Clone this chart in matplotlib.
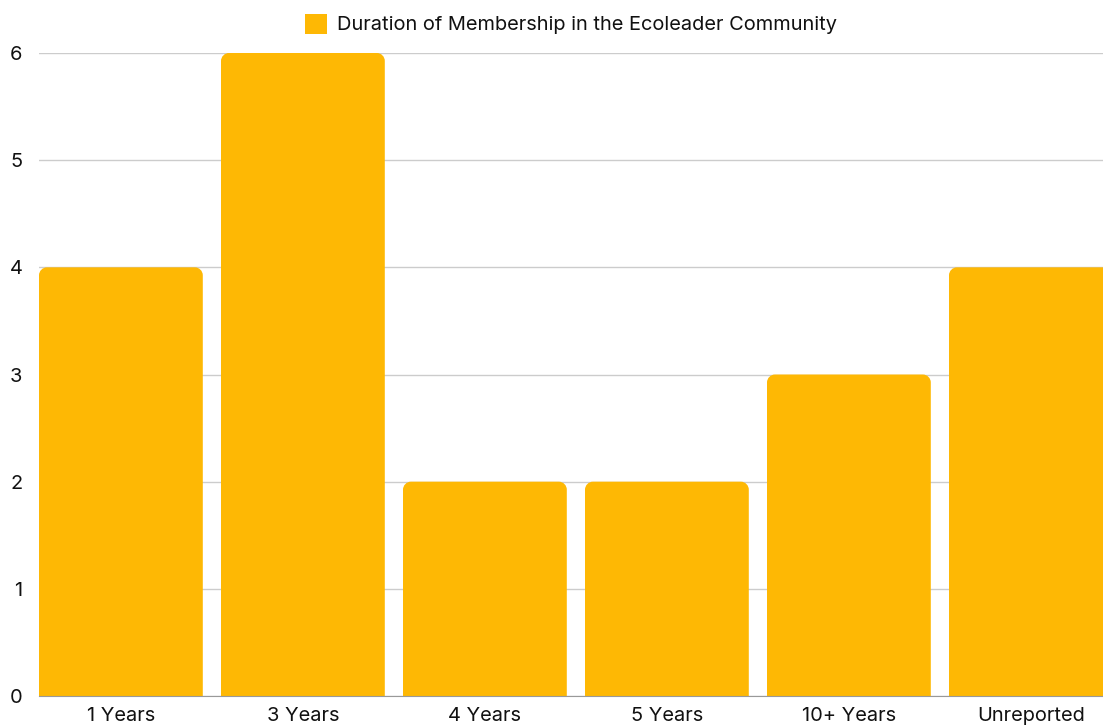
import matplotlib.pyplot as plt
from matplotlib.path import Path
from matplotlib.patches import PathPatch, Patch

categories = ['1 Years', '3 Years', '4 Years', '5 Years', '10+ Years', 'Unreported']
counts = [4, 6, 2, 2, 3, 4]
series_name = 'Duration of Membership in the Ecoleader Community'

BAR_COLOR = '#FEB804'
W, H = 1103, 726

plt.rcParams['font.family'] = ['Inter', 'DejaVu Sans']

fig = plt.figure(figsize=(W / 100, H / 100), dpi=100)
ax = fig.add_axes([39 / W, 30 / H, (W - 39) / W, 643 / H])

bar_w = 0.9
x0 = -bar_w / 2
ax.set_xlim(x0, x0 + (W - 39) / 182)
ax.set_ylim(0, 6)

# pixel per data unit, used to make circular corners
px_x = 182.0
px_y = 643.0 / 6
r = 8.0
rx, ry = r / px_x, r / px_y
k = 0.5523


def rounded_top_bar(x, w, h):
    left, right = x - w / 2, x + w / 2
    verts = [
        (left, 0), (left, h - ry),
        (left, h - ry + k * ry), (left + rx - k * rx, h), (left + rx, h),
        (right - rx, h),
        (right - rx + k * rx, h), (right, h - ry + k * ry), (right, h - ry),
        (right, 0), (left, 0),
    ]
    codes = [Path.MOVETO, Path.LINETO,
             Path.CURVE4, Path.CURVE4, Path.CURVE4,
             Path.LINETO,
             Path.CURVE4, Path.CURVE4, Path.CURVE4,
             Path.LINETO, Path.CLOSEPOLY]
    return PathPatch(Path(verts, codes), facecolor=BAR_COLOR, edgecolor='none', zorder=3)


for i, v in enumerate(counts):
    ax.add_patch(rounded_top_bar(i, bar_w, v))

FS = 14.4
ax.set_yticks(range(0, 7))
ax.yaxis.grid(True, color='#cccccc', linewidth=1)
ax.set_axisbelow(True)
ax.set_xticks(range(len(categories)))
ax.set_xticklabels(categories)
ax.tick_params(axis='both', length=0, labelsize=FS, colors='#111111')
ax.tick_params(axis='y', pad=12)
ax.tick_params(axis='x', pad=8)

for s in ['top', 'right', 'left']:
    ax.spines[s].set_visible(False)
ax.spines['bottom'].set_color('#999999')
ax.spines['bottom'].set_zorder(4)

handle = Patch(facecolor=BAR_COLOR, edgecolor='none')
ax.legend([handle], [series_name], loc='center', bbox_to_anchor=(0.5, 1 + 29 / 643),
          frameon=False, fontsize=FS, handlelength=1.1, handleheight=1.2,
          handletextpad=0.5, labelcolor='#111111')

fig.savefig('out.png', dpi=100)
